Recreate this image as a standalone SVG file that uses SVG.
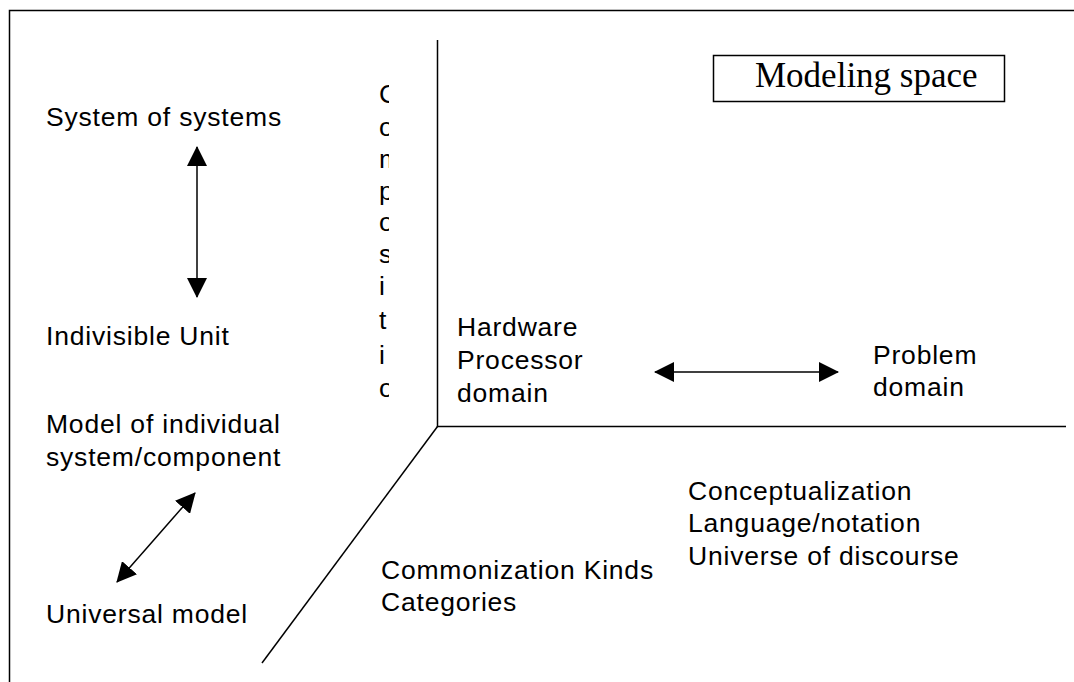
<svg xmlns="http://www.w3.org/2000/svg" width="1074" height="682" viewBox="0 0 1074 682">
<style>
.lbl{font-family:"Liberation Sans",Arial,sans-serif;font-size:26.5px;letter-spacing:0.8px;fill:#000}
.ln{stroke:#000;stroke-width:1.5;fill:none}
.arr{stroke:#000;stroke-width:1.5;fill:none;marker-start:url(#ah);marker-end:url(#ah)}
</style>
<defs>
<marker id="ah" viewBox="0 0 20 20" refX="19" refY="10" markerWidth="20" markerHeight="20" markerUnits="userSpaceOnUse" orient="auto-start-reverse">
<path d="M0,0 L20,10 L0,20 Z" fill="#000"/>
</marker>
<clipPath id="vclip"><rect x="370" y="70" width="19" height="332"/></clipPath>
</defs>
<rect width="1074" height="682" fill="#fff"/>
<path class="ln" d="M9.5,682 V10.5 H1074"/>
<g id="axes">
<path class="ln" d="M437.5,40 V426.5 H1066"/>
<path class="ln" d="M437.5,426.5 L262,663"/>
</g>
<g id="connectors">
<line class="arr" x1="197" y1="147" x2="197" y2="297"/>
<line class="arr" x1="655" y1="372" x2="838" y2="372"/>
<line class="arr" x1="195" y1="493" x2="117" y2="582"/>
</g>
<g id="modeling-space">
<rect x="713.5" y="55.5" width="291" height="46" fill="#fff" stroke="#000" stroke-width="1.5"/>
<text x="755" y="87" font-family="'Liberation Serif','Times New Roman',serif" font-size="35">Modeling space</text>
</g>
<g id="composition" clip-path="url(#vclip)">
<text class="lbl" x="379" y="103">C</text>
<text class="lbl" x="379" y="136">o</text>
<text class="lbl" x="379" y="168">m</text>
<text class="lbl" x="379" y="200">p</text>
<text class="lbl" x="379" y="231">o</text>
<text class="lbl" x="379" y="263">s</text>
<text class="lbl" x="379" y="295">i</text>
<text class="lbl" x="379" y="329">t</text>
<text class="lbl" x="379" y="364">i</text>
<text class="lbl" x="379" y="397">o</text>
<text class="lbl" x="379" y="430">n</text>
</g>
<g id="system-of-systems"><text class="lbl" x="46" y="126">System of systems</text></g>
<g id="indivisible-unit"><text class="lbl" x="46" y="345">Indivisible Unit</text></g>
<g id="model-individual"><text class="lbl" x="46" y="433">Model of individual</text><text class="lbl" x="46" y="466">system/component</text></g>
<g id="universal-model"><text class="lbl" x="46" y="623">Universal model</text></g>
<g id="hardware"><text class="lbl" x="457" y="336">Hardware</text><text class="lbl" x="457" y="369">Processor</text><text class="lbl" x="457" y="402">domain</text></g>
<g id="problem"><text class="lbl" x="873" y="364">Problem</text><text class="lbl" x="873" y="396">domain</text></g>
<g id="conceptualization"><text class="lbl" x="688" y="500">Conceptualization</text><text class="lbl" x="688" y="532">Language/notation</text><text class="lbl" x="688" y="565">Universe of discourse</text></g>
<g id="commonization"><text class="lbl" x="381" y="579">Commonization Kinds</text><text class="lbl" x="381" y="611">Categories</text></g>
</svg>
